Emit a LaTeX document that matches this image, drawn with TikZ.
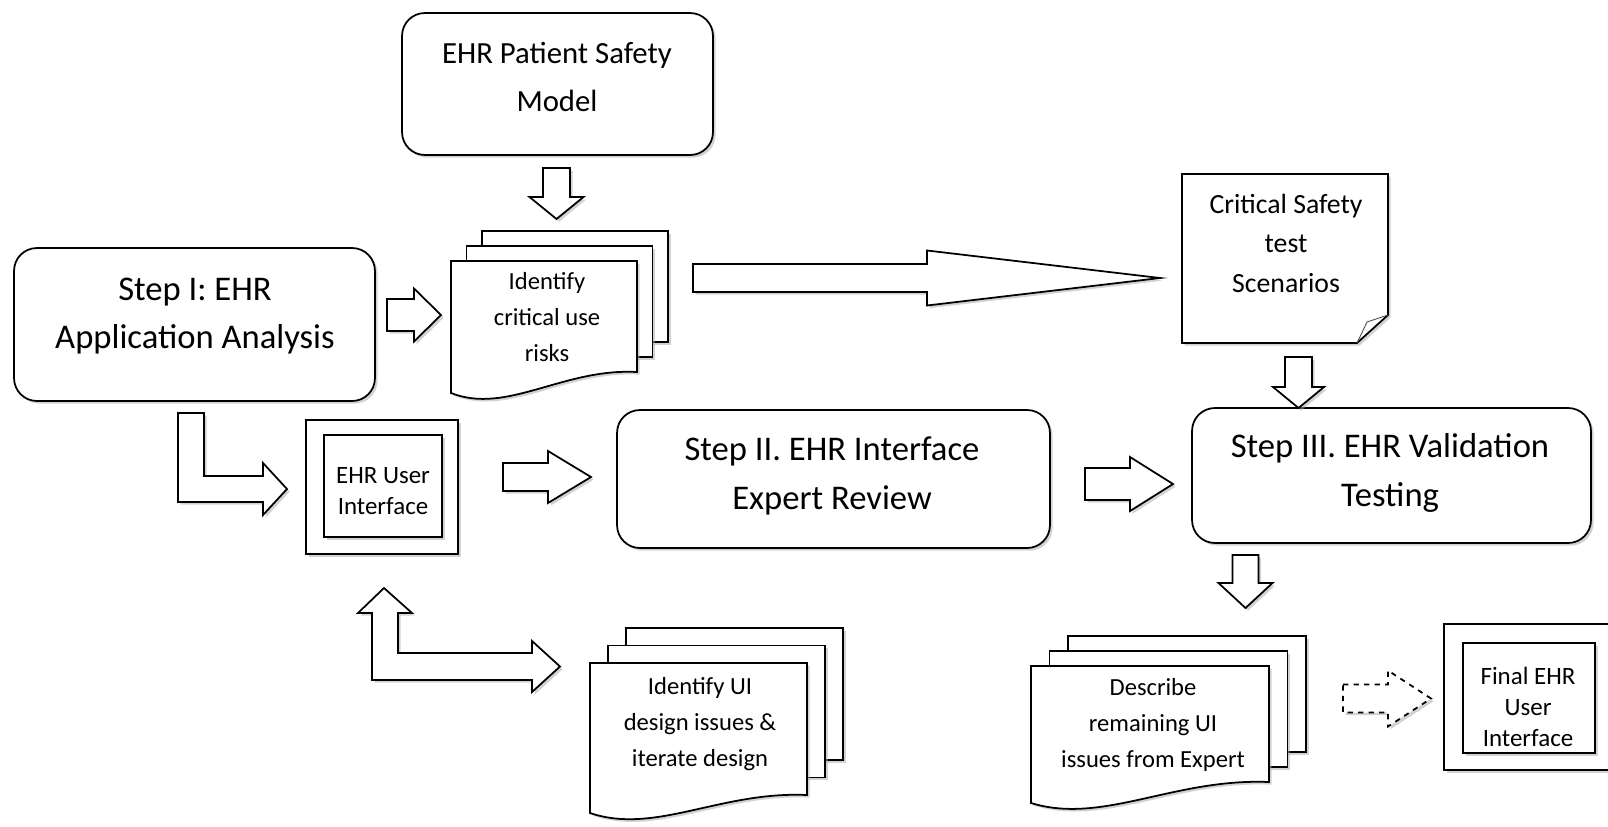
\documentclass[tikz,border=0pt]{standalone}
\usepackage{fontspec}
\setmainfont{Carlito}
\usepackage{tikz}
\usetikzlibrary{shadows}
\tikzset{
  shad/.style={drop shadow={shadow xshift=1.5pt,shadow yshift=-1.5pt,fill=black!35}},
  roundbox/.style={draw,line width=1pt,fill=white,rounded corners=13pt,shad},
  squarebox/.style={draw,line width=1pt,fill=white,shad},
  page/.style={draw,line width=1pt,fill=white,shad},
  blockarrow/.style={draw,line width=1pt,fill=white,line join=miter,shad},
  bigtxt/.style={align=center,font=\fontsize{19.7}{27.5}\selectfont},
  modeltxt/.style={align=center,font=\fontsize{17.5}{27}\selectfont},
  crittxt/.style={align=center,font=\fontsize{15.8}{22.5}\selectfont},
  doctxt/.style={align=center,font=\fontsize{14}{20.4}\selectfont},
  uitxt/.style={align=center,font=\fontsize{14.2}{17.5}\selectfont},
}
% stacked pages: x1, y1, x2, y left, y right, dx, dy
\newcommand{\multidoc}[7]{
  \draw[page] ({#1+2*#6},{#2-2*#7}) rectangle ({#3+2*#6},{#5-2*#7});
  \draw[page] ({#1+#6},{#2-#7}) rectangle ({#3+#6},{#5-#7});
  \draw[page] (#1,#2) -- (#3,#2) -- (#3,#5)
    .. controls ({#1+0.6*(#3-#1)},{#5-4}) and ({#1+0.3*(#3-#1)},{#4+22}) .. (#1,#4) -- cycle;
}
% right block arrow: [style] x0, x head, x tip, y, shaft half, head half
\newcommand{\rarrow}[7][]{
  \draw[blockarrow,#1] (#2,{#5-#6}) -- (#3,{#5-#6}) -- (#3,{#5-#7}) -- (#4,#5)
    -- (#3,{#5+#7}) -- (#3,{#5+#6}) -- (#2,{#5+#6}) -- cycle;
}
% down block arrow: x, y0, y head, y tip, shaft half, head half
\newcommand{\darrow}[6]{
  \draw[blockarrow] ({#1-#5},#2) -- ({#1+#5},#2) -- ({#1+#5},#3) -- ({#1+#6},#3)
    -- (#1,#4) -- ({#1-#6},#3) -- ({#1-#5},#3) -- cycle;
}
\begin{document}
\begin{tikzpicture}[x=0.02cm,y=-0.02cm]
  \useasboundingbox (0,0) rectangle (1608,826);
  % boxes
  \node[roundbox,minimum width=6.22cm,minimum height=2.84cm] (model) at (557.5,84) {};
  \node[modeltxt] (modeltext) at (557,77) {EHR Patient Safety\\Model};
  \node[roundbox,minimum width=7.22cm,minimum height=3.06cm] (stepone) at (194.5,324.5) {};
  \node[bigtxt] (steponetext) at (195,316) {Step I: EHR\\Application Analysis};
  \node[roundbox,minimum width=8.66cm,minimum height=2.76cm] (steptwo) at (833.5,479) {};
  \node[bigtxt] (steptwotext) at (832,476) {Step II. EHR Interface\\Expert Review};
  \node[roundbox,minimum width=7.98cm,minimum height=2.7cm] (stepthree) at (1391.5,475.5) {};
  \node[bigtxt] (stepthreetext) at (1390,473) {Step III. EHR Validation\\Testing};
  % user interface screens
  \node[squarebox,minimum width=3.04cm,minimum height=2.68cm] (ui) at (382,487) {};
  \node[squarebox,minimum width=2.36cm,minimum height=2.04cm] (uiin) at (383,486) {};
  \node[uitxt] (uitext) at (383,491) {EHR User\\Interface};
  \node[squarebox,minimum width=3.42cm,minimum height=2.92cm] (final) at (1529.5,697) {};
  \node[squarebox,minimum width=2.64cm,minimum height=2.2cm] (finalin) at (1529,698) {};
  \node[uitxt] (finaltext) at (1528,707) {Final EHR\\User\\Interface};
  % documents
  \multidoc{451}{261}{637}{393}{372}{15.5}{15}
  \node[doctxt] (risks) at (547,317) {Identify\\critical use\\risks};
  \multidoc{590}{663}{807}{813}{795}{18}{17.5}
  \node[doctxt] (uiissues) at (700,724) {Identify UI\\design issues \&\\iterate design};
  \multidoc{1031}{666}{1269}{803}{782}{18.5}{15}
  \node[doctxt] (remaining) at (1153,725) {Describe\\remaining UI\\issues from Expert};
  % test scenarios page
  \draw[page] (1182,174) -- (1388,174) -- (1388,315) -- (1357,343) -- (1182,343) -- cycle;
  \draw[line width=0.5pt,black!70] (1388,315) -- (1367,322) -- (1357,343);
  \node[crittxt] (scenarios) at (1286,243) {Critical Safety\\test\\Scenarios};
  % block arrows
  \darrow{556.5}{168}{197}{219}{13.5}{27}
  \rarrow{387}{414}{441}{315}{16}{26.5}
  \rarrow{693}{927}{1160}{278}{14}{27.5}
  \darrow{1298.5}{357}{387}{408}{13.5}{25.5}
  \rarrow{503}{548}{591}{477}{14}{26}
  \rarrow{1085}{1130}{1173}{484}{16}{27}
  \darrow{1245.5}{555}{583}{608}{13}{27}
  \rarrow[dashed]{1343}{1388}{1431}{698.5}{14}{28}
  \draw[blockarrow] (178,413) -- (204,413) -- (204,476) -- (263,476) -- (263,463)
    -- (287,489) -- (263,515) -- (263,502) -- (178,502) -- cycle;
  \draw[blockarrow] (384,588) -- (412,613) -- (398,613) -- (398,653) -- (532,653)
    -- (532,641) -- (560,666.5) -- (532,692) -- (532,680) -- (372,680)
    -- (372,613) -- (358,613) -- cycle;
\end{tikzpicture}
\end{document}
